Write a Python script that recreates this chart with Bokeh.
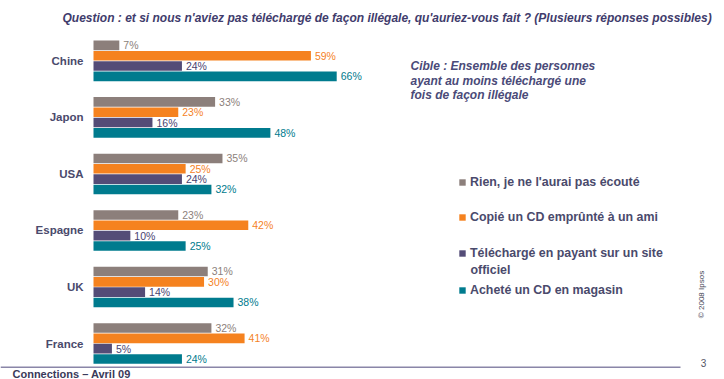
import math
from bokeh.plotting import figure
from bokeh.models import ColumnDataSource, Range1d, Label, Legend, LegendItem
from bokeh.transform import dodge
from bokeh.core.properties import value
from bokeh.embed import file_html
from bokeh.resources import INLINE

# ---------------- data ----------------
countries = ["Chine", "Japon", "USA", "Espagne", "UK", "France"]
rien = [7, 33, 35, 23, 31, 32]
copie = [59, 23, 25, 42, 30, 41]
telecharge = [24, 16, 24, 10, 14, 5]
achete = [66, 48, 32, 25, 38, 24]
series_names = [
    "Rien, je ne l'aurai pas écouté",
    "Copié un CD emprûnté à un ami",
    "Téléchargé en payant sur un site",
    "Acheté un CD en magasin",
]
series_extra = ["", "", "officiel", ""]
title_text = ("Question : et si nous n'aviez pas téléchargé de façon illégale, "
              "qu'auriez-vous fait ? (Plusieurs réponses possibles)")
cible_lines = ["Cible : Ensemble des personnes",
               "ayant au moins téléchargé une",
               "fois de façon illégale"]
footer_text = "Connections – Avril 09"
page_no = "3"
copyright_text = "© 2008 Ipsos"

# ---------------- style ----------------
colors = ["#8c7f7b", "#f5821f", "#544c77", "#007b8e"]
label_colors = ["#8c7f7b", "#f5821f", "#4a4370", "#007b8e"]
txt = "#4a4a6c"
FONT = "Liberation Sans"

W, H = 724, 379
X0, SX = 93.0, 3.685      # px of 0 %, px per %
Y0, SY = 60.4, 56.52      # px of first group centre, px per group

def dx(px):
    return (px - X0) / SX

def dy(py):
    return (py - Y0) / SY

p = figure(width=W, height=H, output_backend="svg", toolbar_location=None,
           x_range=Range1d(dx(0), dx(W)), y_range=Range1d(dy(H), dy(0)),
           x_axis_type=None, y_axis_type=None, min_border=0,
           outline_line_color=None)
p.grid.visible = False
p.background_fill_color = "white"
p.border_fill_color = "white"

src = ColumnDataSource(dict(
    y=list(range(len(countries))), country=countries,
    s0=rien, s1=copie, s2=telecharge, s3=achete,
    l0=[f"{v}%" for v in rien], l1=[f"{v}%" for v in copie],
    l2=[f"{v}%" for v in telecharge], l3=[f"{v}%" for v in achete],
))

offsets_px = [-15.5, -5.15, 5.15, 15.5]
bar_h = 9.6 / SY
renderers = []
for i, off in enumerate(offsets_px):
    r = p.hbar(y=dodge("y", off / SY, range=p.y_range), left=0, right=f"s{i}",
               height=bar_h, fill_color=colors[i], line_color=None, source=src)
    renderers.append(r)
    p.text(x=dodge(f"s{i}", 4 / SX, range=p.x_range),
           y=dodge("y", off / SY, range=p.y_range), text=f"l{i}", source=src,
           text_font=value(FONT), text_font_size="10.5px",
           text_color=label_colors[i], text_baseline="middle", text_align="left")

# country labels
p.text(x=dx(83), y="y", text="country", source=src, text_font=value(FONT),
       text_font_size="11.5px", text_font_style="bold", text_color=txt,
       text_align="right", text_baseline="middle")

# title
p.add_layout(Label(x=dx(62), y=dy(17), text=title_text, text_font=FONT,
                   text_font_size="12px", text_font_style="bold italic",
                   text_color="#3f3c6c", text_baseline="middle"))
# cible
for line, fy in zip(cible_lines, [65, 80, 94]):
    p.add_layout(Label(x=dx(410), y=dy(fy), text=line, text_font=FONT,
                       text_font_size="12px", text_font_style="bold italic",
                       text_color="#4a4a78", text_baseline="middle"))

# legends
centers = [181.5, 216.7, 253.0, 289.5]
for i in range(4):
    leg = Legend(items=[LegendItem(label=series_names[i], renderers=[renderers[i]])],
                 location=(458, H - (centers[i] + 8)), padding=0, margin=0, spacing=0,
                 glyph_width=8, glyph_height=8, label_height=16, label_standoff=4,
                 label_text_font=FONT, label_text_font_size="12.4px",
                 label_text_font_style="bold", label_text_color=txt,
                 background_fill_alpha=0, border_line_alpha=0)
    p.add_layout(leg)
p.add_layout(Label(x=dx(470), y=dy(269.5), text=series_extra[2], text_font=FONT,
                   text_font_size="12.4px", text_font_style="bold",
                   text_color=txt, text_baseline="middle"))

# footer
p.segment(x0=dx(0), y0=dy(366.7), x1=dx(680), y1=dy(366.7),
          line_color="#8a86a8", line_width=1.5)
p.add_layout(Label(x=dx(12), y=dy(373.5), text=footer_text, text_font=FONT,
                   text_font_size="11px", text_font_style="bold",
                   text_color="#3a3a5a", text_baseline="middle"))
p.add_layout(Label(x=dx(703), y=dy(362.5), text=page_no, text_font=FONT,
                   text_font_size="10px", text_color="#555566",
                   text_baseline="middle", text_align="center"))
p.add_layout(Label(x=dx(701), y=dy(294), text=copyright_text, text_font=FONT,
                   text_font_size="8px", text_color="#444455", angle=math.pi / 2,
                   text_baseline="middle", text_align="center"))

open("out.html", "w").write(file_html(p, INLINE))
